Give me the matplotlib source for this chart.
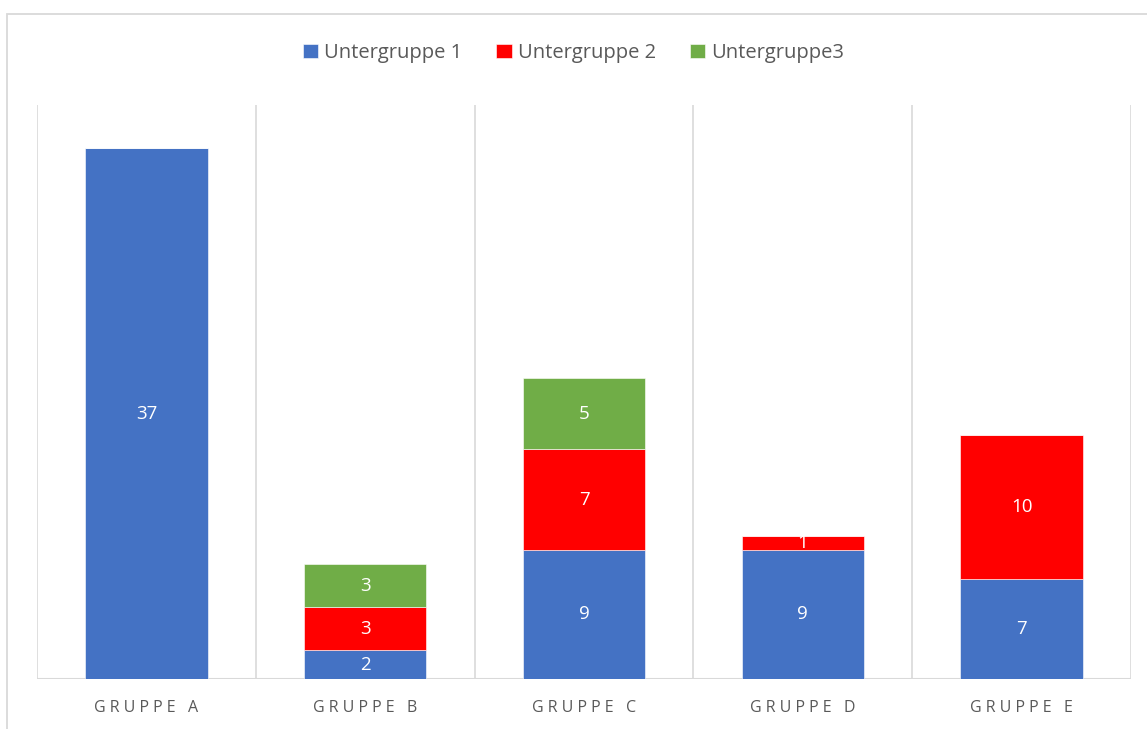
import numpy as np
import matplotlib.pyplot as plt
from matplotlib.patches import Rectangle

plt.rcParams['font.family'] = ['Open Sans', 'DejaVu Sans']

# stacked values per group
gruppen = ['GRUPPE A', 'GRUPPE B', 'GRUPPE C', 'GRUPPE D', 'GRUPPE E']
serien = ['Untergruppe 1', 'Untergruppe 2', 'Untergruppe3']
ug1 = [37, 2, 9, 9, 7]
ug2 = [0, 3, 7, 1, 10]
ug3 = [0, 3, 5, 0, 0]
farben = ['#4472C4', '#FF0000', '#70AD47']

W, H = 1147, 729
fig = plt.figure(figsize=(W / 100, H / 100), dpi=100)

# light frame around the chart (only left/top visible)
fig.patches.append(Rectangle((7 / W, -0.1), 1.2, 1 - 14 / H + 0.1, transform=fig.transFigure,
                             fill=False, edgecolor='#d9d9d9', linewidth=1.3))

ax = fig.add_axes([37 / W, 1 - 679 / H, (1131 - 37) / W, (679 - 105) / H])

x = np.arange(len(gruppen))
unten = np.zeros(len(gruppen))
for name, werte, farbe in zip(serien, [ug1, ug2, ug3], farben):
    werte = np.array(werte, dtype=float)
    bars = ax.bar(x, werte, 0.56, bottom=unten, color=farbe, label=name,
                  edgecolor='white', linewidth=0.4, zorder=3)
    for b, v, u in zip(bars, werte, unten):
        if v > 0:
            ax.text(b.get_x() + b.get_width() / 2, u + v / 2, str(int(v)),
                    ha='center', va='center', color='white', fontsize=13.5, zorder=4)
    unten += werte

ax.set_xlim(-0.5, len(gruppen) - 0.5)
ax.set_ylim(0, 40)

# category separators
for g in np.arange(-0.5, len(gruppen), 1):
    ax.axvline(g, color='#d9d9d9', linewidth=1.2, zorder=1)

for s in ax.spines.values():
    s.set_visible(False)
ax.axhline(0, color='#d9d9d9', linewidth=1.5, zorder=2)
ax.set_yticks([])
ax.set_xticks(x)
ax.set_xticklabels([' '.join(g) for g in gruppen], color='#595959', fontsize=11.5)
ax.tick_params(axis='x', length=0, pad=15)

fig.legend(loc='center', bbox_to_anchor=(0.5, 1 - 53 / H), ncol=3, frameon=False,
           fontsize=14.5, handlelength=0.75, handleheight=0.75, handletextpad=0.3,
           columnspacing=1.7, labelcolor='#595959')

fig.savefig('out.png', dpi=100)
